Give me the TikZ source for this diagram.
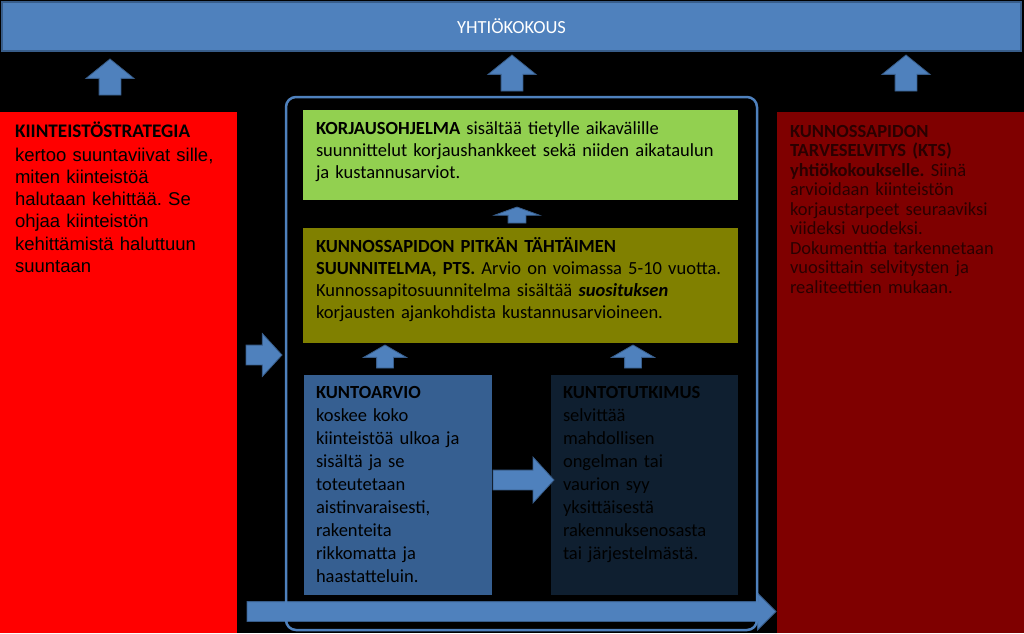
\documentclass[tikz,border=0pt]{standalone}
\usepackage{fontspec}
\setmainfont{Carlito}
\newfontfamily\arialfont{Liberation Sans}
\usetikzlibrary{shapes.arrows}
\definecolor{barblue}{HTML}{4F81BD}
\definecolor{barline}{HTML}{385D8A}
\definecolor{stratred}{HTML}{FF0000}
\definecolor{ktsred}{HTML}{7F0000}
\definecolor{ktstext}{HTML}{2A0000}
\definecolor{korgreen}{HTML}{92D050}
\definecolor{ptsolive}{HTML}{808000}
\definecolor{arvioblue}{HTML}{365F91}
\definecolor{tutknavy}{HTML}{0F1F30}
\frenchspacing

\begin{document}
\begin{tikzpicture}[
  x=1pt,y=-1pt,
  font=\fontsize{18.5}{22}\selectfont,
  panel/.style={anchor=north west,inner sep=0pt,outer sep=0pt},
  body/.style={anchor=base west,align=left,inner sep=0pt,outer sep=0pt},
  blockarrow/.style={single arrow,draw=barline,fill=barblue,line width=0.8pt,
    inner xsep=0pt,minimum width=0pt,outer sep=0pt,anchor=tail},
  upbig/.style={blockarrow,rotate=90,minimum height=36pt,inner ysep=10.5pt,
    single arrow head extend=13pt,single arrow tip angle=102},
  upflat/.style={blockarrow,rotate=90,minimum height=16pt,inner ysep=8.5pt,
    single arrow head extend=14pt,single arrow tip angle=140},
  upsmall/.style={blockarrow,rotate=90,minimum height=23pt,inner ysep=8pt,
    single arrow head extend=13pt,single arrow tip angle=120},
  rightarr/.style={blockarrow,inner ysep=9.5pt,single arrow head extend=12pt,
    single arrow tip angle=95}
]
\useasboundingbox[fill=black] (0,0) rectangle (1024,633);

\node[panel,fill=barblue,draw=barline,line width=1.5pt,minimum width=1019pt,minimum height=49pt,
  text=white] (kokous) at (2,2) {YHTIÖKOKOUS};

\node[panel,fill=stratred,minimum width=237pt,minimum height=521pt] (strat) at (0,112) {};
\node[body,text width=220pt,font=\fontsize{18.5}{22.2}\selectfont] (strat-t) at (15,137)
  {{\fontsize{19.2}{22}\selectfont\textbf{KIINTEISTÖSTRATEGIA}}\\[2pt]
   \arialfont kertoo suuntaviivat sille,\\
   \arialfont miten kiinteistöä\\
   \arialfont halutaan kehittää. Se\\
   \arialfont ohjaa kiinteistön\\
   \arialfont kehittämistä haluttuun\\
   \arialfont suuntaan};

\node[panel,fill=ktsred,minimum width=247pt,minimum height=521pt] (kts) at (777,112) {};
\node[body,text width=232pt,text=ktstext,font=\fontsize{18.5}{19.5}\selectfont] (kts-t) at (790,137)
  {\textbf{KUNNOSSAPIDON}\\
   \textbf{TARVESELVITYS (KTS)}\\
   \textbf{yhtiökokoukselle.} Siinä\\
   arvioidaan kiinteistön\\
   korjaustarpeet seuraaviksi\\
   viideksi vuodeksi.\\
   Dokumenttia tarkennetaan\\
   vuosittain selvitysten ja\\
   realiteettien mukaan.};

\node[panel,fill=korgreen,minimum width=435pt,minimum height=90pt] (ohjelma) at (303,110) {};
\node[body,text width=420pt] (ohjelma-t) at (316,134)
  {\textbf{KORJAUSOHJELMA} sisältää tietylle aikavälille\\
   suunnittelut korjaushankkeet sekä niiden aikataulun\\
   ja kustannusarviot.};

\node[panel,fill=ptsolive,minimum width=435pt,minimum height=115pt] (pts) at (303,228) {};
\node[body,text width=420pt,font=\fontsize{18.5}{22.3}\selectfont] (pts-t) at (316,252)
  {\textbf{KUNNOSSAPIDON PITKÄN TÄHTÄIMEN}\\
   \textbf{SUUNNITELMA, PTS.} Arvio on voimassa 5-10 vuotta.\\
   Kunnossapitosuunnitelma sisältää \textbf{\textit{suosituksen}}\\
   korjausten ajankohdista kustannusarvioineen.};

\node[panel,fill=arvioblue,minimum width=188pt,minimum height=220pt] (arvio) at (304,375) {};
\node[body,text width=175pt,font=\fontsize{18.5}{23}\selectfont] (arvio-t) at (316,398)
  {\textbf{KUNTOARVIO}\\
   koskee koko\\
   kiinteistöä ulkoa ja\\
   sisältä ja se\\
   toteutetaan\\
   aistinvaraisesti,\\
   rakenteita\\
   rikkomatta ja\\
   haastatteluin.};

\node[panel,fill=tutknavy,minimum width=187pt,minimum height=220pt] (tutk) at (551,375) {};
\node[body,text width=175pt,font=\fontsize{18.5}{23}\selectfont] (tutk-t) at (563,398)
  {\textbf{KUNTOTUTKIMUS}\\
   selvittää\\
   mahdollisen\\
   ongelman tai\\
   vaurion syy\\
   yksittäisestä\\
   rakennuksenosasta\\
   tai järjestelmästä.};

\node[upbig] (up-strat) at (110,95) {};
\node[upbig] (up-plan) at (512,91) {};
\node[upbig] (up-kts) at (906,91) {};
\node[upflat] (up-pts) at (517,223) {};
\node[upsmall] (up-arvio) at (385,368) {};
\node[upsmall] (up-tutk) at (633,368) {};
\node[rightarr,minimum height=36pt,single arrow head extend=11.5pt] (in-plan) at (246,355) {};
\node[rightarr,minimum height=61pt,single arrow head extend=13pt] (to-tutk) at (493,480) {};
\node[rightarr,minimum height=529pt,single arrow head extend=8.5pt,single arrow tip angle=90] (to-kts) at (247,611.5) {};

\node[panel,draw=barblue,line width=2.5pt,rounded corners=10pt,
  minimum width=471pt,minimum height=533pt] (plan) at (286,97) {};
\end{tikzpicture}
\end{document}
